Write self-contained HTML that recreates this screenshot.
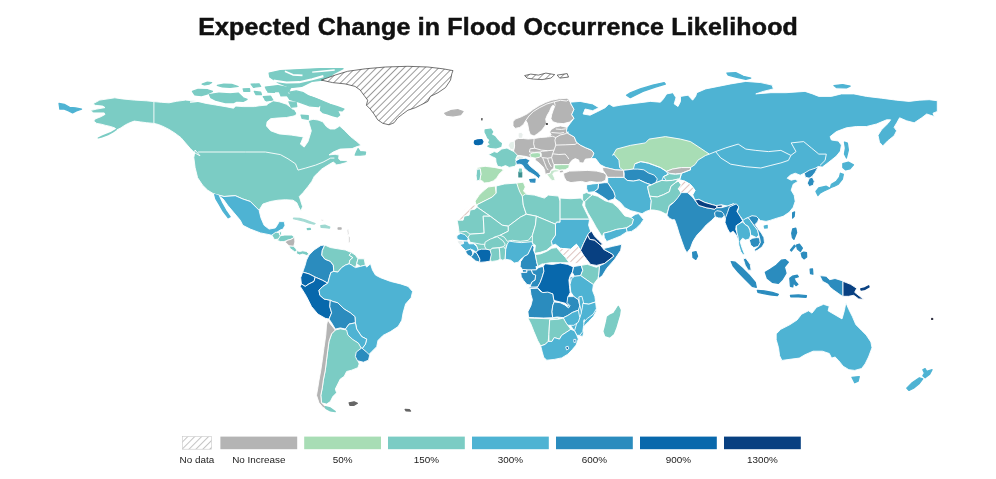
<!DOCTYPE html>
<html lang="en"><head><meta charset="utf-8"><title>Expected Change in Flood Occurrence Likelihood</title>
<style>
html,body{margin:0;padding:0;background:#fff;}
body{width:996px;height:479px;overflow:hidden;position:relative;font-family:"Liberation Sans",sans-serif;}
h1{position:absolute;left:0;top:13px;width:996px;margin:0;text-align:center;font-size:23.2px;line-height:28px;font-weight:bold;color:#111;letter-spacing:0.2px;text-indent:0.2px;transform:scaleX(1.075);transform-origin:498px 0;white-space:nowrap;-webkit-text-stroke:0.5px #111;}
svg{position:absolute;left:0;top:0;}
.legend text{font-family:"Liberation Sans",sans-serif;font-size:9.9px;fill:#1a1a1a;}
</style></head><body>
<h1>Expected Change in Flood Occurrence Likelihood</h1>
<svg width="996" height="479" viewBox="0 0 996 479">
<defs><pattern id="hatch" width="4.9" height="4.9" patternUnits="userSpaceOnUse" patternTransform="rotate(45)">
<rect width="4.9" height="4.9" fill="#fff"/><line x1="0.5" y1="0" x2="0.5" y2="4.9" stroke="#5a5a5a" stroke-width="0.6"/></pattern>
<pattern id="hatch3" width="4.9" height="4.9" patternUnits="userSpaceOnUse" patternTransform="rotate(45)">
<rect width="4.9" height="4.9" fill="#fff"/><line x1="0.5" y1="0" x2="0.5" y2="4.9" stroke="#aaa" stroke-width="0.7"/></pattern>
<pattern id="hatch2" width="4.9" height="4.9" patternUnits="userSpaceOnUse" patternTransform="rotate(45)">
<rect width="4.9" height="4.9" fill="#fff"/><line x1="0.5" y1="0" x2="0.5" y2="4.9" stroke="#dcc2be" stroke-width="1"/></pattern></defs>
<g class="map">
<g stroke="#fff" stroke-width="0.9" stroke-linejoin="round">
<path d="M59.0,103.4L64.3,104.3L69.6,107.3L75.6,107.9L81.6,109.1L76.4,110.9L72.6,112.9L68.1,110.6L64.3,109.1L59.8,109.1Z" fill="#4eb3d3" stroke="#4eb3d3" stroke-width="1.2"/>
<path d="M92.9,103.8L99.7,100.1L114.8,97.8L122.3,98.9L134.3,100.1L146.4,100.8L153.9,101.6L161.4,102.3L169.0,102.8L176.5,101.3L185.5,100.1L193.1,100.8L200.0,101.3L190.0,102.1L198.0,101.5L206.1,103.4L215.7,105.0L227.0,106.9L233.4,108.2L235.8,106.1L243.1,106.6L254.3,106.6L259.1,105.8L267.2,105.0L267.1,104.2L273.2,100.8L279.2,101.8L286.5,104.2L291.3,107.8L296.2,112.7L295.0,115.7L286.5,117.5L276.8,118.1L270.7,118.7L267.1,121.8L266.5,126.0L270.7,130.8L279.2,133.9L291.3,135.1L303.4,136.9L300.4,144.1L304.2,147.1L308.0,141.6L311.3,130.8L309.5,124.8L308.3,120.6L313.1,119.3L318.0,120.0L322.8,121.8L326.4,126.6L330.1,129.0L334.9,129.0L339.7,126.0L344.4,130.3L350.6,136.6L356.9,141.6L361.2,145.4L357.1,146.6L352.1,148.6L340.1,149.1L333.1,152.1L329.0,154.9L335.1,154.3L339.1,155.1L338.6,158.6L340.1,160.3L347.1,160.7L347.3,162.3L340.1,164.3L336.3,164.9L334.6,162.9L333.2,162.1L328.1,165.1L321.9,168.9L318.1,172.6L314.3,176.4L311.8,181.4L308.1,186.4L303.0,192.7L299.3,196.5L300.5,200.2L302.5,206.5L301.0,211.0L299.0,207.8L296.8,202.8L293.0,200.2L285.5,199.7L277.9,200.2L270.4,201.5L262.9,204.0L259.1,210.3L256.6,207.8L250.3,201.5L242.8,199.0L235.3,195.7L224.0,196.5L213.9,194.0L207.7,190.2L202.6,185.2L197.6,177.7L195.1,167.6L193.8,157.6L195.1,150.0L200.0,155.8L194.6,152.8L190.1,148.3L185.5,143.0L181.0,137.7L175.0,133.2L169.0,129.4L163.0,126.4L158.4,124.5L153.9,123.4L146.4,122.7L140.4,121.9L134.3,121.1L129.8,122.7L125.3,124.9L120.8,127.9L116.3,130.2L110.2,132.9L102.7,135.9L98.2,138.0L102.0,137.0L108.0,134.7L113.3,131.7L116.3,129.4L114.8,127.9L110.2,126.4L105.7,125.4L101.2,124.2L96.7,123.4L93.7,121.1L95.2,118.9L101.2,116.6L105.0,114.4L104.2,112.9L93.7,112.9L89.9,110.6L96.7,109.1L105.0,107.6L102.7,106.1L95.2,105.3Z" fill="#7bccc4"/>
<path d="M192.4,91.4L198.0,89.3L207.7,89.7L212.5,91.4L207.7,93.8L201.3,95.7L194.8,95.0Z" fill="#7bccc4" stroke="#7bccc4" stroke-width="1.2"/>
<path d="M209.3,94.6L218.9,93.0L230.2,93.8L238.2,93.0L243.1,97.8L247.1,99.4L243.1,101.5L236.6,101.0L233.4,102.6L225.4,102.6L215.7,100.2L210.9,97.8Z" fill="#7bccc4" stroke="#7bccc4" stroke-width="1.2"/>
<path d="M202.1,84.1L206.9,82.2L211.7,82.5L209.3,84.1L204.5,84.9Z" fill="#7bccc4" stroke="#7bccc4" stroke-width="1.2"/>
<path d="M217.3,85.4L223.8,84.1L231.8,84.4L238.2,86.5L230.2,87.3L222.2,87.0Z" fill="#7bccc4" stroke="#7bccc4" stroke-width="1.2"/>
<path d="M254.3,91.4L260.7,92.2L261.5,94.6L255.9,94.6Z" fill="#7bccc4" stroke="#7bccc4" stroke-width="1.2"/>
<path d="M263.2,96.7L270.4,96.2L272.8,99.9L266.4,101.0Z" fill="#7bccc4" stroke="#7bccc4" stroke-width="1.2"/>
<path d="M267.2,89.7L275.2,90.2L274.4,92.5L268.0,92.2Z" fill="#7bccc4" stroke="#7bccc4" stroke-width="1.2"/>
<path d="M265.3,87.1L277.9,85.6L290.4,88.1L289.1,91.6L275.3,91.6L266.6,90.1Z" fill="#7bccc4" stroke="#7bccc4" stroke-width="1.2"/>
<path d="M269.1,73.1L280.4,70.6L300.4,69.6L320.5,68.6L343.1,68.6L334.3,73.1L326.8,79.6L311.7,81.4L301.7,86.4L290.4,87.6L277.9,82.6L269.8,77.1Z" fill="#7bccc4" stroke="#7bccc4" stroke-width="1.2"/>
<path d="M289.5,92.1L296.2,90.9L303.4,92.7L308.3,95.7L315.5,98.2L322.8,101.2L330.1,104.2L337.3,106.6L344.0,109.1L342.2,110.9L337.3,110.3L339.7,115.1L337.3,116.9L332.5,115.7L327.6,113.9L322.8,112.7L320.4,110.3L321.0,106.0L315.5,104.2L310.7,102.4L305.8,100.0L301.0,98.2L295.0,96.3L290.7,94.5Z" fill="#7bccc4" stroke="#7bccc4" stroke-width="1.2"/>
<path d="M288.9,101.8L296.2,102.4L296.8,106.6L291.3,107.2Z" fill="#7bccc4" stroke="#7bccc4" stroke-width="1.2"/>
<path d="M287.7,110.9L293.7,110.3L295.6,113.9L290.1,115.1Z" fill="#7bccc4" stroke="#7bccc4" stroke-width="1.2"/>
<path d="M264.1,96.9L270.7,96.7L271.3,100.0L265.3,100.3Z" fill="#7bccc4" stroke="#7bccc4" stroke-width="1.2"/>
<path d="M279.2,91.5L287.7,91.1L288.3,95.7L281.0,96.0Z" fill="#7bccc4" stroke="#7bccc4" stroke-width="1.2"/>
<path d="M301.0,115.1L308.3,115.7L308.3,119.3L302.2,118.5Z" fill="#7bccc4" stroke="#7bccc4" stroke-width="1.2"/>
<path d="M358.1,148.6L360.1,151.6L365.6,152.1L365.1,154.6L360.1,155.1L355.1,155.1L356.1,152.6Z" fill="#7bccc4" stroke="#7bccc4" stroke-width="1.2"/>
<path d="M321.3,80.1L335.1,75.1L347.6,71.3L365.2,68.8L385.3,67.0L407.9,66.3L427.9,67.0L443.0,68.8L453.0,70.6L451.8,73.8L450.5,80.1L445.5,87.6L438.0,92.7L430.4,96.4L427.9,101.4L420.4,105.2L415.4,107.7L407.9,110.2L402.8,114.0L397.8,117.8L394.0,122.8L389.0,124.8L382.8,123.3L377.7,119.8L374.0,114.0L370.2,109.0L366.4,105.2L367.7,100.2L363.9,95.2L360.2,90.1L355.1,86.4L345.1,83.9L332.6,82.6Z" fill="url(#hatch)" stroke="#3a3a3a" stroke-width="0.7"/>
<path d="M444.7,113.2L450.5,110.7L458.1,109.7L463.1,111.5L460.6,114.7L453.0,116.0L446.8,115.2Z" fill="#b4b4b4" stroke="#b4b4b4" stroke-width="1.2"/>
<path d="M213.9,194.0L224.0,196.5L235.3,195.7L242.8,199.0L250.3,201.5L256.6,207.8L259.1,210.3L260.9,217.8L264.1,225.3L269.1,229.1L275.4,227.9L277.9,224.1L279.2,221.6L284.2,221.6L285.0,225.3L283.0,229.1L280.4,229.9L276.7,232.4L274.2,235.9L270.4,234.9L260.4,232.9L250.3,229.1L242.8,225.3L240.3,220.3L234.0,212.8L227.7,205.3L223.2,199.0L218.9,195.7Z" fill="#4eb3d3"/>
<path d="M214.7,194.7L218.2,195.7L221.5,202.8L225.7,210.3L230.2,216.8L228.2,217.8L223.2,211.5L218.9,204.0L215.9,199.0Z" fill="#4eb3d3" stroke="#4eb3d3" stroke-width="1.2"/>
<path d="M271.8,235.1L275.9,232.1L279.8,233.0L280.7,235.9L278.9,239.0L274.4,239.6Z" fill="#7bccc4"/>
<path d="M279.4,231.8L281.6,231.8L281.3,235.1L279.5,235.1Z" fill="#7bccc4"/>
<path d="M278.3,239.0L280.4,235.7L284.9,235.1L291.9,235.1L294.6,237.2L291.0,239.3L286.9,240.5L283.9,241.6L280.6,241.6L277.4,240.5Z" fill="#7bccc4"/>
<path d="M286.6,240.5L291.0,239.3L294.6,237.2L294.9,242.0L293.7,246.4L289.2,246.0L285.5,242.3Z" fill="#b4b4b4"/>
<path d="M288.9,246.0L293.7,246.3L295.8,248.7L297.6,251.4L294.6,251.7L290.4,248.7Z" fill="#7bccc4"/>
<path d="M296.4,250.6L299.7,251.5L302.7,250.8L306.3,251.4L309.0,253.8L306.9,255.6L302.7,254.1L299.7,255.0L296.7,253.8Z" fill="#7bccc4"/>
<path d="M293.7,218.0L299.7,218.3L305.7,220.1L311.7,222.2L315.1,223.5L314.0,224.1L308.7,222.9L302.7,220.8L296.7,219.5L293.4,218.7Z" fill="#a5dbd4" stroke="#a5dbd4" stroke-width="1.2"/>
<path d="M320.8,225.6L325.3,225.2L329.8,227.0L329.5,228.2L325.3,227.7L321.1,227.4Z" fill="#9ed8d0" stroke="#9ed8d0" stroke-width="1.2"/>
<path d="M307.2,228.5L310.2,228.3L310.5,229.5L307.5,229.7Z" fill="#7bccc4" stroke="#7bccc4" stroke-width="1.2"/>
<path d="M338.1,227.9L341.1,227.9L341.1,229.1L338.1,229.1Z" fill="#b4b4b4" stroke="#b4b4b4" stroke-width="1.2"/>
<path d="M321.1,219.8L323.0,219.5L323.3,220.7L321.4,221.0Z" fill="#b4b4b4"/>
<path d="M347.1,229.8L348.6,229.8L348.9,234.4L347.6,234.4Z" fill="#b4b4b4"/>
<path d="M348.6,236.6L350.0,236.6L350.0,242.7L348.8,242.7Z" fill="#b4b4b4"/>
<path d="M309.0,255.1L314.0,250.0L320.8,245.5L324.8,245.0L322.3,250.5L321.8,255.1L324.8,259.1L330.3,261.3L333.3,265.1L333.8,271.4L330.8,272.6L329.3,277.7L327.8,283.2L322.3,280.2L315.2,277.1L309.0,273.9L302.7,272.1L305.2,265.1L306.5,260.1Z" fill="#2b8cbe"/>
<path d="M324.8,245.0L330.3,247.5L337.8,248.8L345.4,250.0L351.6,252.6L349.1,255.1L352.9,257.6L349.9,260.1L349.1,263.8L345.4,265.1L341.6,267.6L337.8,272.1L333.8,271.4L333.3,265.1L330.3,261.3L324.8,259.1L321.8,255.1L322.3,250.5Z" fill="#7bccc4"/>
<path d="M351.6,252.6L355.4,255.1L357.9,258.8L356.7,263.8L355.4,267.6L351.6,265.1L349.1,263.8L349.9,260.1L352.9,257.6L349.1,255.1Z" fill="#7bccc4"/>
<path d="M357.9,258.8L364.2,258.8L365.4,265.1L360.4,266.4L356.7,263.8Z" fill="#7bccc4"/>
<path d="M302.7,272.1L309.0,273.9L315.2,277.1L314.0,281.4L309.0,283.9L305.2,286.4L301.4,283.9L300.7,277.7Z" fill="#0868ac"/>
<path d="M301.4,283.9L305.2,286.4L309.0,283.9L314.0,281.4L315.2,277.1L322.3,280.2L327.8,283.2L322.8,286.4L319.0,290.2L319.8,295.2L324.0,299.0L330.3,300.2L329.8,306.5L331.6,312.8L329.0,319.1L325.3,318.3L317.8,314.0L311.5,306.5L306.5,296.5L302.7,290.2L300.2,286.4Z" fill="#0868ac"/>
<path d="M333.8,271.4L337.8,272.1L341.6,267.6L345.4,265.1L349.1,263.8L351.6,265.1L355.4,267.6L360.4,266.4L365.4,265.1L366.7,267.1L370.5,263.8L372.5,270.1L375.5,275.1L380.5,277.7L390.5,281.4L400.6,283.9L408.1,286.4L412.6,291.5L411.1,297.7L405.6,304.0L403.1,312.8L401.8,320.3L398.1,326.6L390.5,331.6L383.0,335.4L378.0,340.4L376.7,346.7L371.7,351.7L368.0,355.5L365.4,351.7L361.7,349.2L365.4,344.2L366.7,339.1L361.7,336.6L356.7,329.1L355.4,322.8L354.9,316.6L350.4,312.8L344.1,309.0L337.8,302.8L332.8,301.5L330.3,300.2L324.0,299.0L319.8,295.2L319.0,290.2L322.8,286.4L327.8,283.2L329.3,277.7L330.8,272.6Z" fill="#4eb3d3"/>
<path d="M330.3,300.2L332.8,301.5L337.8,302.8L344.1,309.0L350.4,312.8L354.9,316.6L355.4,322.8L349.1,324.1L345.4,329.1L340.3,327.9L335.3,329.1L331.6,322.8L329.0,319.1L331.6,312.8L329.8,306.5Z" fill="#2b8cbe"/>
<path d="M345.4,329.1L349.1,324.1L355.4,322.8L356.7,329.1L361.7,336.6L366.7,339.1L365.4,344.2L361.7,349.2L357.9,342.9L351.6,339.1L346.6,334.1Z" fill="#4eb3d3"/>
<path d="M335.3,330.0L340.3,328.8L346.6,330.0L347.9,335.1L352.9,339.6L358.4,343.1L361.7,348.9L357.9,352.1L356.7,357.7L359.2,363.9L357.9,367.7L351.6,370.2L346.6,371.5L344.1,376.5L340.3,379.0L337.8,384.0L335.3,389.0L336.6,392.8L332.8,396.6L330.3,401.6L326.5,404.1L321.5,402.8L320.8,395.3L322.3,387.8L323.3,380.2L325.3,370.2L326.5,360.2L327.8,350.1L329.0,341.3L331.6,333.8Z" fill="#7bccc4"/>
<path d="M327.8,320.0L330.3,323.8L335.3,330.0L331.6,333.8L329.0,341.3L327.8,350.1L326.5,360.2L325.3,370.2L323.3,380.2L322.3,387.8L320.8,395.3L321.5,402.8L325.3,406.6L330.3,409.9L327.8,409.9L322.8,407.3L319.0,402.8L316.5,395.3L317.8,387.8L319.0,380.2L320.8,370.2L322.3,360.2L324.0,347.6L325.8,335.1L326.5,325.0Z" fill="#b4b4b4"/>
<path d="M325.3,406.6L330.3,407.9L335.3,411.6L330.3,410.9L325.8,408.4Z" fill="#7bccc4" stroke="#7bccc4" stroke-width="1.2"/>
<path d="M356.2,352.1L361.7,347.9L366.4,351.9L369.7,355.1L368.5,360.2L363.4,362.2L357.4,360.7L355.4,356.6Z" fill="#2b8cbe"/>
<path d="M349.1,402.8L354.1,401.8L357.4,403.3L354.1,405.3L349.9,405.3Z" fill="#666" stroke="#666" stroke-width="1.2"/>
<path d="M405.1,409.4L409.4,409.6L410.6,411.1L406.1,410.9Z" fill="#666" stroke="#666" stroke-width="1.2"/>
<path d="M514.1,141.0L516.6,139.0L518.6,138.5L523.6,138.5L528.1,139.0L534.2,138.5L540.2,137.5L547.2,137.0L551.2,135.0L549.7,132.0L551.2,129.5L555.2,127.0L560.4,125.9L567.2,127.4L566.5,130.5L567.3,133.0L574.3,137.0L576.3,142.0L580.3,145.1L585.4,147.6L591.4,150.1L593.9,153.1L592.9,156.1L590.9,158.6L585.4,159.1L583.4,163.1L579.3,162.6L578.8,160.1L575.3,158.6L572.3,160.1L569.8,163.1L569.3,164.6L561.3,164.6L554.2,164.6L553.7,168.2L551.2,170.2L550.2,173.2L545.2,174.2L544.7,170.2L543.2,167.1L539.2,163.1L535.2,160.1L535.2,158.1L530.1,157.6L525.1,156.3L519.1,155.6L515.1,155.6L514.1,153.1L513.6,150.1L514.6,146.1Z" fill="#b4b4b4"/>
<path d="M513.0,121.8L515.2,119.1L521.3,116.8L527.3,113.8L533.3,109.3L539.3,105.5L545.4,102.5L551.4,100.3L558.9,98.8L566.4,98.3L569.5,99.5L571.0,104.0L574.0,109.3L571.7,114.6L574.0,118.3L569.5,122.1L563.4,123.6L557.4,123.2L552.9,121.8L550.9,118.8L551.7,114.6L553.2,110.1L554.7,106.3L552.9,105.2L551.4,107.0L549.4,111.6L547.2,115.3L545.7,119.1L546.4,122.9L544.6,126.6L541.6,130.4L537.5,133.7L534.1,136.0L530.3,134.5L528.8,130.4L528.0,125.9L527.3,122.9L525.8,120.6L523.5,124.4L519.8,127.4L515.2,128.4L513.0,125.9Z" fill="#b4b4b4"/>
<path d="M545.8,123.2L547.9,123.2L547.9,124.8L545.8,124.8Z" fill="#222" stroke="none"/>
<path d="M481.1,118.3L482.7,118.3L482.3,120.5L481.5,120.5Z" fill="#222" stroke="none"/>
<path d="M518.3,133.0L521.3,132.2L523.1,134.5L522.6,138.0L519.1,138.5L518.1,136.0Z" fill="#e9eeec"/>
<path d="M508.1,145.1L510.1,142.0L514.1,141.0L514.6,146.1L513.6,150.1L510.1,149.1Z" fill="#e3efe9"/>
<path d="M515.6,157.1L519.1,155.9L523.6,156.6L523.1,159.1L519.1,159.9L516.1,159.3Z" fill="#e6f1ea"/>
<path d="M529.6,154.6L532.1,153.1L537.2,152.6L541.2,153.3L541.4,155.6L539.2,157.3L535.2,158.1L531.1,157.3Z" fill="#a8ddb5"/>
<path d="M554.2,164.9L561.3,164.6L569.3,164.6L568.8,167.7L565.3,169.7L559.3,170.2L554.7,168.7Z" fill="#a8ddb5"/>
<path d="M546.7,174.2L550.2,173.2L551.2,170.4L555.2,169.7L559.3,170.2L558.3,171.7L554.2,172.2L552.7,174.2L554.2,177.2L555.2,180.2L552.2,180.7L549.7,178.2L548.2,176.2Z" fill="#c4e6cc"/>
<path d="M485.1,129.9L490.8,129.0L492.7,131.9L491.1,134.5L494.5,136.4L496.9,139.4L499.0,141.7L501.4,143.5L500.8,146.5L496.0,148.0L490.4,147.4L487.8,146.2L490.8,144.2L488.7,142.6L489.9,139.9L487.8,137.9L486.3,134.5L485.1,132.3Z" fill="#7bccc4" stroke="#7bccc4" stroke-width="1.2"/>
<path d="M474.6,140.9L477.6,139.9L481.8,139.6L483.0,141.7L481.8,143.9L478.3,144.7L475.3,144.4L474.3,142.9Z" fill="#0868ac" stroke="#0868ac" stroke-width="1.2"/>
<path d="M488.4,154.6L494.2,151.6L497.2,152.5L501.7,149.0L507.0,148.0L510.3,149.8L514.0,151.6L517.5,155.3L515.7,159.1L517.2,162.9L514.9,166.3L509.2,167.4L505.5,165.6L501.7,167.1L497.6,166.3L496.0,162.1L495.7,158.3L492.3,156.7Z" fill="#7bccc4"/>
<path d="M477.6,167.4L485.1,166.3L494.2,167.4L501.7,168.9L503.5,169.9L499.0,174.2L496.9,177.9L493.4,180.9L488.9,182.6L484.4,182.9L482.1,180.9L479.8,180.2L480.9,174.2L480.3,168.9L476.8,169.3Z" fill="#a8ddb5"/>
<path d="M476.8,169.3L480.3,168.9L480.9,174.2L479.8,180.2L476.8,180.9L476.1,175.7Z" fill="#7bccc4"/>
<path d="M515.7,160.9L519.8,158.8L525.8,158.3L530.0,160.3L528.0,163.3L530.3,166.3L534.8,169.9L538.7,173.0L540.5,175.7L538.7,178.7L536.3,176.4L532.6,173.9L528.8,171.9L524.6,168.4L522.5,165.1L519.8,164.2L516.4,164.4Z" fill="#2b8cbe"/>
<path d="M529.7,179.6L535.1,179.1L534.8,182.1L530.6,181.8Z" fill="#2b8cbe" stroke="#2b8cbe" stroke-width="1.2"/>
<path d="M518.9,172.2L521.7,172.2L521.7,177.0L518.9,177.0Z" fill="#3d8f8f" stroke="#3d8f8f" stroke-width="1.2"/>
<path d="M519.5,169.0L521.3,169.0L521.3,172.0L519.5,172.0Z" fill="#7bccc4" stroke="#7bccc4" stroke-width="1.2"/>
<path d="M563.4,173.4L569.5,171.1L578.5,170.8L587.5,170.4L596.6,171.1L603.3,172.7L606.4,174.5L605.6,180.2L601.8,182.0L596.6,182.3L590.5,181.4L586.0,182.6L581.5,181.4L575.5,182.0L571.0,182.6L566.4,181.1L564.2,177.2Z" fill="#b4b4b4"/>
<path d="M558.9,170.8L562.7,169.9L563.7,172.3L560.4,173.0Z" fill="#b4b4b4"/>
<path d="M570.1,102.2L580.1,101.4L592.7,103.9L598.9,107.7L592.7,110.7L585.1,109.0L583.1,114.0L590.1,115.2L597.7,111.5L605.2,107.7L609.0,103.9L613.2,106.5L620.3,105.2L630.3,103.9L640.3,102.7L650.4,101.4L660.4,102.2L663.4,98.9L666.7,93.9L673.0,92.7L676.0,97.7L674.2,103.9L678.0,106.5L680.5,101.4L680.5,96.4L688.0,95.2L692.6,100.2L695.6,96.4L696.8,92.7L705.6,88.9L718.2,86.4L730.7,83.9L745.8,81.4L760.8,82.6L772.1,85.1L773.4,88.9L763.3,91.4L755.8,93.9L770.9,92.7L785.9,92.7L805.0,91.4L812.5,93.9L818.8,96.4L831.3,96.4L841.4,93.9L853.9,93.9L866.5,96.4L881.5,98.2L896.6,100.2L909.2,101.4L919.2,100.2L929.2,99.7L937.3,100.7L937.3,111.5L933.0,113.2L934.3,116.5L926.7,114.0L921.7,117.8L914.2,122.8L906.6,120.8L899.6,117.8L897.1,122.3L894.1,127.3L896.6,130.8L894.1,135.8L887.8,140.8L882.8,145.9L879.5,142.3L878.0,135.3L881.5,129.8L888.1,123.3L890.6,119.8L886.6,119.8L876.5,124.0L866.5,126.5L856.4,126.5L846.4,127.8L836.4,131.6L830.1,136.6L831.4,140.0L838.4,141.0L841.4,145.1L840.4,151.1L836.4,156.1L831.4,160.1L826.3,164.1L822.3,167.1L818.3,166.5L815.3,172.2L812.3,176.2L809.3,178.2L805.3,177.2L804.3,173.2L800.2,175.2L795.2,173.2L790.2,175.2L787.2,178.2L791.2,180.2L795.2,179.2L798.2,181.2L793.2,184.2L791.2,190.2L794.2,195.3L795.2,201.3L793.2,207.3L789.2,212.3L783.2,216.3L776.1,218.4L770.1,220.4L766.1,221.4L760.4,220.5L758.9,218.9L754.4,217.9L751.4,219.7L746.9,217.9L743.9,222.0L741.6,218.2L737.1,212.2L738.6,208.4L737.1,205.4L733.3,203.9L727.3,206.1L722.0,204.9L716.7,205.8L712.2,204.6L704.7,202.4L698.7,199.4L694.9,200.1L692.7,194.7L695.0,190.2L690.5,184.5L684.5,181.1L678.4,179.3L672.4,180.4L666.4,180.8L661.9,180.4L655.8,182.7L651.3,184.9L645.3,182.7L639.3,179.9L633.3,181.1L627.2,180.4L623.9,177.4L624.2,173.6L623.5,170.3L615.2,169.8L606.1,167.6L600.1,164.6L595.6,158.6L590.9,158.6L592.9,156.1L593.9,153.1L591.4,150.1L585.4,147.6L580.3,145.1L576.3,142.0L574.3,137.0L567.3,133.0L566.5,130.5L567.2,127.4L570.2,123.3L574.0,118.3L571.7,114.6L574.0,109.3L571.0,104.0L569.5,99.5Z" fill="#4eb3d3"/>
<path d="M626.5,95.2L630.3,92.7L640.3,88.9L652.9,85.1L664.2,82.6L665.4,84.1L655.4,87.1L642.9,91.4L635.3,95.2L630.3,97.7Z" fill="#4eb3d3" stroke="#4eb3d3" stroke-width="1.2"/>
<path d="M726.9,73.1L735.7,72.6L743.3,76.3L750.8,78.1L745.8,79.3L735.7,77.1L728.2,75.1Z" fill="#4eb3d3" stroke="#4eb3d3" stroke-width="1.2"/>
<path d="M833.9,85.6L842.6,84.6L850.2,86.1L846.4,87.9L836.4,87.6Z" fill="#4eb3d3" stroke="#4eb3d3" stroke-width="1.2"/>
<path d="M844.4,142.0L847.4,143.1L848.4,150.1L846.4,158.1L844.4,154.1L845.4,148.1Z" fill="#4eb3d3" stroke="#4eb3d3" stroke-width="1.2"/>
<path d="M612.7,155.4L616.5,149.1L630.3,145.4L645.4,142.9L649.1,139.1L665.4,136.6L680.5,139.1L690.5,141.6L698.1,146.6L705.6,151.6L709.4,154.1L705.5,155.5L698.0,160.1L695.0,164.6L690.5,167.6L681.4,167.6L672.4,169.1L666.4,171.4L660.4,167.6L654.3,165.3L648.3,163.1L640.8,161.6L634.8,163.8L633.3,169.1L623.5,170.3L619.7,167.6L618.9,160.1L613.7,154.0Z" fill="#a8ddb5"/>
<path d="M623.5,170.3L633.3,169.1L637.8,169.1L643.8,169.8L648.3,172.9L654.3,175.1L657.3,178.9L655.8,182.7L651.3,184.9L645.3,182.7L639.3,179.9L633.3,181.1L627.2,180.4L623.9,177.4L624.2,173.6Z" fill="#2b8cbe"/>
<path d="M666.4,171.4L672.4,169.1L681.4,167.6L690.5,167.6L690.5,169.8L681.4,173.3L675.4,173.9L669.4,173.3Z" fill="#b4b4b4"/>
<path d="M663.4,176.6L669.4,173.6L675.4,174.4L681.4,173.6L679.9,178.9L672.4,180.4L666.4,180.5Z" fill="#7bccc4"/>
<path d="M804.3,173.2L809.3,170.2L815.3,168.2L818.3,166.5L815.3,172.2L812.3,176.2L809.3,178.2L805.3,177.2Z" fill="#2b8cbe"/>
<path d="M809.3,178.2L812.3,177.2L814.3,181.2L813.3,185.2L809.3,186.6L807.3,183.2Z" fill="#2b8cbe"/>
<path d="M842.8,163.7L848.4,162.1L853.5,164.9L850.0,168.8L845.4,169.8L842.8,167.6Z" fill="#4eb3d3" stroke="#4eb3d3" stroke-width="1.2"/>
<path d="M840.4,173.2L843.4,174.2L842.4,179.2L838.4,184.2L834.4,186.2L830.4,187.6L831.4,184.2L836.4,181.2L839.4,177.2Z" fill="#4eb3d3" stroke="#4eb3d3" stroke-width="1.2"/>
<path d="M818.7,187.8L826.3,186.2L830.0,188.2L823.9,191.0L820.3,192.9L817.9,195.5L815.9,191.4Z" fill="#4eb3d3" stroke="#4eb3d3" stroke-width="1.2"/>
<path d="M792.6,212.7L794.6,211.9L794.2,216.3L792.6,218.0Z" fill="#2b8cbe" stroke="#2b8cbe" stroke-width="1.2"/>
<path d="M764.2,226.0L767.2,225.4L767.2,228.0L764.6,228.1Z" fill="#4eb3d3" stroke="#4eb3d3" stroke-width="1.2"/>
<path d="M602.4,167.6L606.1,167.6L615.2,169.8L623.5,170.3L623.9,177.4L615.2,177.4L607.7,177.4L605.4,173.6L603.1,170.6Z" fill="#b4b4b4"/>
<path d="M607.7,177.4L615.2,177.4L623.9,177.4L627.2,180.4L633.3,181.1L639.3,179.9L645.3,182.7L651.3,184.9L647.6,186.4L648.3,190.2L649.8,196.2L651.3,200.7L650.4,209.9L645.9,211.4L642.1,213.7L636.9,212.2L630.8,210.7L624.8,207.7L620.3,202.4L615.0,198.6L613.7,191.7L610.7,187.2L607.7,182.7Z" fill="#4eb3d3"/>
<path d="M598.6,183.4L604.6,182.7L607.7,182.7L610.7,187.2L613.7,191.7L615.2,196.2L613.7,199.2L608.4,200.7L603.1,197.0L597.1,193.2L594.1,191.7L597.9,188.7Z" fill="#2b8cbe"/>
<path d="M586.6,184.9L592.6,183.9L598.6,183.4L597.9,188.7L594.1,191.7L588.1,192.4L586.6,188.7Z" fill="#4eb3d3"/>
<path d="M582.6,194.0L586.4,192.5L592.4,194.8L588.6,197.8L584.8,201.6L582.6,202.3Z" fill="#7bccc4"/>
<path d="M584.8,201.6L588.6,197.8L592.4,194.8L597.7,196.3L605.2,200.8L612.7,203.1L618.0,207.6L621.7,212.1L624.8,215.9L630.8,217.4L633.8,218.9L632.3,224.2L626.3,227.9L616.5,229.4L609.7,231.7L603.7,233.2L602.2,237.0L599.9,233.2L596.1,227.2L592.4,220.4L587.9,212.9L584.8,206.1Z" fill="#7bccc4"/>
<path d="M630.8,217.4L635.3,214.4L638.3,213.6L640.6,215.9L643.6,219.6L640.6,223.9L636.1,228.4L631.5,231.4L627.0,232.0L626.0,228.4L632.0,224.5L633.5,219.3Z" fill="#4eb3d3"/>
<path d="M603.7,233.2L609.7,231.7L616.5,229.4L626.3,227.9L627.0,231.7L620.2,236.2L612.7,239.2L606.7,241.5L604.4,237.7Z" fill="#4eb3d3"/>
<path d="M651.3,184.9L655.8,182.7L661.9,180.4L666.4,180.8L672.4,180.4L678.4,178.9L675.4,182.7L670.9,186.4L669.4,191.7L663.4,194.7L657.3,197.0L649.8,196.2L648.3,190.2L647.6,186.4Z" fill="#7bccc4"/>
<path d="M649.8,196.2L657.3,197.0L663.4,194.7L669.4,191.7L670.9,186.4L675.4,182.7L678.4,181.1L681.4,184.9L678.4,188.7L681.4,193.2L678.4,197.7L673.9,202.2L669.4,205.2L667.9,211.3L666.4,214.3L660.4,211.3L654.3,210.1L650.4,209.9L651.3,200.7Z" fill="#7bccc4"/>
<path d="M678.4,181.1L684.5,181.1L690.5,184.5L695.0,190.2L692.7,194.7L687.5,193.2L681.4,193.2L678.4,188.7L681.4,184.9Z" fill="url(#hatch2)"/>
<path d="M681.4,192.6L687.4,192.6L691.9,196.4L694.9,200.1L698.7,205.4L706.2,207.7L714.5,209.2L716.7,207.7L721.3,207.7L727.3,206.1L733.3,203.9L737.1,205.4L734.8,209.2L732.6,212.9L728.8,215.2L727.3,218.9L725.0,219.7L724.3,215.9L722.0,218.2L718.3,217.9L715.2,216.7L711.5,220.5L706.2,225.0L701.7,230.2L697.2,234.8L694.2,239.3L692.7,242.0L690.4,248.3L686.9,252.8L684.4,248.3L682.1,242.0L679.1,233.3L676.8,225.7L674.6,219.7L672.3,219.7L669.3,218.2L667.0,215.2L667.8,211.4L669.3,206.1L673.8,202.4L677.6,197.9Z" fill="#2b8cbe"/>
<path d="M694.9,200.1L698.7,199.4L704.7,202.4L712.2,204.6L716.7,205.8L716.7,207.7L714.5,209.2L706.2,207.7L698.7,205.4Z" fill="#084081"/>
<path d="M716.7,205.4L722.0,204.9L722.5,207.0L717.5,207.7Z" fill="#084081"/>
<path d="M692.6,252.3L696.0,251.5L697.6,256.2L695.8,259.4L693.0,257.6Z" fill="#2b8cbe" stroke="#2b8cbe" stroke-width="1.2"/>
<path d="M729.4,206.9L733.8,205.0L736.3,203.8L738.8,206.9L736.9,211.3L740.1,216.3L742.6,220.7L740.1,223.2L736.3,225.7L735.7,229.4L737.5,233.8L738.8,237.6L740.1,241.4L738.8,242.0L737.3,237.6L736.3,235.1L733.2,231.3L730.0,233.2L727.5,228.8L725.0,222.6L725.6,217.5L727.5,212.5Z" fill="#0868ac"/>
<path d="M736.3,225.7L740.1,223.2L742.6,221.9L745.1,224.4L748.2,226.3L750.1,230.1L750.7,235.1L749.4,238.8L745.7,240.1L742.6,238.2L740.1,241.4L741.9,247.6L744.4,253.9L743.2,255.1L740.7,251.4L738.8,245.1L738.2,237.6L736.9,232.6Z" fill="#4eb3d3"/>
<path d="M742.6,220.7L745.1,218.8L748.2,217.5L750.7,220.7L753.8,225.1L757.6,230.1L758.8,235.1L756.3,237.6L753.8,236.3L750.7,235.1L750.1,230.1L748.2,226.3L745.1,224.4Z" fill="#4eb3d3"/>
<path d="M748.2,217.5L752.0,215.7L756.3,216.3L758.8,218.8L757.6,221.9L755.1,224.4L757.6,228.2L761.4,233.2L763.9,237.6L764.5,242.6L762.0,247.0L757.6,250.1L755.1,251.4L754.5,249.5L758.2,246.4L760.1,242.6L759.5,237.6L758.8,235.1L757.6,230.1L753.8,225.1L750.7,220.7Z" fill="#2b8cbe"/>
<path d="M749.4,240.1L752.6,238.2L756.3,237.6L759.5,237.8L760.1,242.6L758.2,246.4L753.8,247.6L750.7,245.1Z" fill="#2b8cbe"/>
<path d="M792.7,228.8L795.8,228.2L796.7,232.6L795.2,236.3L793.9,239.5L792.4,237.6L791.7,233.2Z" fill="#2b8cbe" stroke="#2b8cbe" stroke-width="1.2"/>
<path d="M801.2,253.3L803.7,252.0L806.5,252.6L806.7,257.0L804.0,258.9L802.1,257.0Z" fill="#2b8cbe" stroke="#2b8cbe" stroke-width="1.2"/>
<path d="M743.2,258.8L745.8,258.2L750.2,264.2L751.2,270.2L748.2,270.2L745.2,265.2Z" fill="#2b8cbe"/>
<path d="M731.2,261.6L735.2,262.2L742.2,268.2L749.2,275.2L755.3,282.3L756.3,287.3L752.2,286.3L745.2,279.3L738.2,272.2L733.2,266.2Z" fill="#2b8cbe" stroke="#2b8cbe" stroke-width="1.2"/>
<path d="M757.3,290.3L764.3,290.9L772.3,292.3L778.4,294.3L777.3,295.7L770.3,294.9L762.3,293.3L757.9,292.3Z" fill="#2b8cbe" stroke="#2b8cbe" stroke-width="1.2"/>
<path d="M765.3,272.2L770.3,269.2L776.3,265.2L781.4,260.2L785.4,259.6L788.4,262.2L784.4,267.2L786.0,273.2L782.4,279.3L778.4,283.3L772.3,282.3L767.3,278.3Z" fill="#2b8cbe" stroke="#2b8cbe" stroke-width="1.2"/>
<path d="M789.8,278.3L792.4,276.2L797.4,275.2L798.4,276.8L794.0,278.3L795.4,281.3L798.0,284.3L796.0,285.7L793.4,282.9L792.8,286.9L790.4,286.3Z" fill="#2b8cbe" stroke="#2b8cbe" stroke-width="1.2"/>
<path d="M796.4,245.1L799.4,244.1L802.4,248.1L800.4,251.5L797.4,249.1Z" fill="#2b8cbe" stroke="#2b8cbe" stroke-width="1.2"/>
<path d="M790.4,250.1L794.4,245.1L795.4,246.1L791.4,251.1Z" fill="#2b8cbe" stroke="#2b8cbe" stroke-width="1.2"/>
<path d="M790.4,295.3L798.4,294.9L806.5,295.7L806.1,297.3L798.4,296.9L790.8,296.9Z" fill="#2b8cbe" stroke="#2b8cbe" stroke-width="1.2"/>
<path d="M810.1,269.2L812.5,268.8L812.9,274.2L810.5,273.6Z" fill="#2b8cbe" stroke="#2b8cbe" stroke-width="1.2"/>
<path d="M819.7,275.6L826.1,276.2L829.6,279.7L835.0,278.5L843.0,280.9L843.0,296.7L838.2,293.3L833.6,290.1L830.2,287.3L827.8,284.1L822.5,281.3Z" fill="#2b8cbe"/>
<path d="M843.0,281.3L850.6,284.3L856.7,288.3L854.7,292.3L859.7,296.3L863.7,299.3L858.7,298.9L853.7,295.3L848.6,296.3L843.0,296.3Z" fill="#084081"/>
<path d="M860.7,288.9L864.7,287.7L868.7,285.7L869.1,286.9L865.1,289.3L861.1,290.1Z" fill="#084081" stroke="#084081" stroke-width="1.2"/>
<path d="M459.0,220.0L483.1,215.0L550.0,215.0L550.0,245.1L533.3,245.1L506.2,245.1L505.2,259.2L490.2,260.7L480.1,255.2L476.3,245.1L468.1,239.1L462.0,234.1L458.8,233.1Z" fill="#7bccc4"/>
<path d="M567.5,296.3L578.8,295.7L585.1,302.6L595.7,305.1L596.3,311.3L593.6,316.3L588.8,321.4L585.1,325.1L582.6,328.2L583.6,332.6L582.8,336.4L576.3,335.1L573.8,330.1L567.5,321.4L563.8,317.6L567.5,305.1Z" fill="#4eb3d3"/>
<path d="M488.2,187.0L495.2,186.0L496.2,193.1L492.2,197.1L486.2,200.1L480.2,203.1L476.1,205.1L475.1,201.1L479.2,195.1L483.2,191.1Z" fill="#a8ddb5"/>
<path d="M476.1,205.1L477.1,207.1L475.1,209.1L470.1,210.1L469.1,215.2L464.1,216.2L463.1,220.2L457.1,220.2L460.1,215.2L465.1,209.1L471.1,205.1Z" fill="url(#hatch2)"/>
<path d="M496.2,186.0L504.3,184.0L517.3,183.0L519.3,189.1L522.3,195.1L523.3,205.1L526.3,214.2L520.3,217.2L508.3,226.2L502.2,225.2L490.2,216.2L477.1,207.1L477.1,204.7L486.2,200.1L492.2,197.1L496.2,193.1Z" fill="#7bccc4"/>
<path d="M516.7,183.0L523.3,182.2L525.3,187.0L523.5,191.1L526.7,194.1L523.1,197.5L519.9,192.1L518.3,188.1Z" fill="#a8ddb5"/>
<path d="M522.3,196.1L525.3,194.1L534.4,195.1L544.4,198.1L548.4,195.1L558.5,196.1L560.1,201.1L560.1,222.2L556.5,222.2L555.5,224.2L536.4,216.2L526.3,214.2L523.3,205.1Z" fill="#7bccc4"/>
<path d="M560.1,198.1L570.5,198.7L580.6,198.1L583.6,201.1L582.6,205.1L587.6,215.2L589.6,219.2L560.1,219.2Z" fill="#7bccc4"/>
<path d="M457.1,220.2L463.1,220.2L464.1,216.2L469.1,215.2L470.1,210.1L475.1,209.1L477.1,207.1L490.2,216.2L483.2,216.2L484.2,233.2L470.1,234.2L466.1,231.2L459.1,232.2L458.1,225.2Z" fill="#7bccc4"/>
<path d="M483.2,216.2L490.2,216.2L502.2,225.2L508.3,226.2L508.3,231.2L500.2,235.2L494.2,237.2L489.2,241.3L485.2,244.3L481.2,244.3L476.1,243.3L470.1,242.3L468.1,237.2L470.1,234.2L484.2,233.2Z" fill="#7bccc4"/>
<path d="M508.3,226.2L520.3,217.2L526.3,214.2L536.4,216.2L535.4,225.2L532.4,235.2L528.4,240.3L520.3,241.3L512.3,240.3L507.3,241.3L504.3,237.2L500.2,235.2L508.3,231.2Z" fill="#7bccc4"/>
<path d="M536.4,216.2L555.5,224.2L555.5,235.2L551.4,241.3L552.4,245.3L546.4,250.3L540.4,252.3L534.4,253.3L535.4,245.3L532.4,243.3L532.4,235.2L535.4,225.2Z" fill="#7bccc4"/>
<path d="M560.1,222.2L560.1,219.2L589.6,219.2L588.6,225.2L590.6,231.2L587.6,235.2L583.6,243.3L580.6,250.3L576.5,244.3L570.5,249.3L560.5,248.3L555.5,244.3L552.4,245.3L551.4,241.3L555.5,235.2L555.5,224.2L556.5,222.2Z" fill="#4eb3d3"/>
<path d="M560.5,248.3L570.5,249.3L576.5,244.3L580.6,250.3L583.6,255.3L586.6,259.3L580.6,263.4L572.5,263.4L565.5,259.3L558.5,252.3Z" fill="url(#hatch2)"/>
<path d="M588.6,233.2L591.6,231.2L594.6,236.2L598.6,240.3L602.7,244.3L600.6,245.3L594.6,240.3L589.6,239.3L587.6,235.2Z" fill="#084081"/>
<path d="M583.6,243.3L587.6,235.2L589.6,239.3L594.6,240.3L600.6,245.3L603.7,249.3L612.7,254.3L613.7,256.3L604.7,263.4L596.6,265.4L590.6,264.4L586.6,259.3L583.6,255.3L580.6,250.3Z" fill="#084081"/>
<path d="M604.7,248.3L612.7,246.3L621.7,244.3L620.7,250.3L614.7,259.3L606.7,268.4L602.4,275.6L598.6,278.6L598.6,275.6L599.4,265.8L604.7,263.4L613.7,256.3L612.7,254.3L603.7,249.3Z" fill="#2b8cbe"/>
<path d="M456.9,235.7L460.7,233.3L464.8,234.5L468.2,238.2L467.6,241.1L462.6,240.6L459.0,240.1L456.9,238.6Z" fill="#4eb3d3"/>
<path d="M457.5,240.7L462.6,240.3L463.6,243.6L459.8,244.6L457.8,242.6Z" fill="#e8eeee"/>
<path d="M459.8,244.6L463.6,243.6L463.2,241.1L467.6,241.1L469.1,243.8L473.6,243.8L476.6,246.3L478.1,250.1L476.1,252.4L473.8,250.5L470.7,249.1L467.8,250.1L465.7,250.7L462.6,247.6Z" fill="#4eb3d3"/>
<path d="M465.7,250.7L467.8,250.1L470.7,249.1L472.6,252.0L472.8,254.9L470.7,256.6L467.6,254.9L466.1,252.6Z" fill="#2b8cbe"/>
<path d="M470.7,256.6L472.8,254.9L473.8,252.0L476.1,252.4L477.9,255.1L479.9,259.1L479.4,262.1L475.7,261.0L472.8,258.6Z" fill="#2b8cbe"/>
<path d="M478.1,250.1L481.4,249.2L486.4,249.2L491.0,249.8L491.7,255.1L490.4,261.1L485.1,261.9L479.6,262.4L479.9,259.1L477.9,255.1L476.1,252.4Z" fill="#0868ac"/>
<path d="M490.2,250.1L492.2,248.1L499.2,247.6L499.7,252.1L500.2,259.2L497.2,260.7L492.2,261.4L490.0,260.7L491.2,254.7Z" fill="#7bccc4"/>
<path d="M499.2,247.6L503.7,246.6L505.7,249.6L505.2,259.2L502.7,260.2L500.2,259.2L499.7,252.1Z" fill="#7bccc4"/>
<path d="M485.1,242.1L490.2,239.1L497.2,236.6L502.7,240.6L505.2,244.1L503.7,246.6L499.2,247.6L492.2,248.1L490.2,250.1L486.1,249.1L484.6,246.1Z" fill="#7bccc4"/>
<path d="M505.7,249.6L507.2,244.1L509.2,241.1L515.3,242.1L521.3,242.6L527.8,242.1L531.8,241.6L533.3,245.1L530.3,249.6L527.8,254.7L524.3,256.7L520.8,259.2L518.3,262.2L514.3,263.0L510.7,260.2L505.2,259.2Z" fill="#4eb3d3"/>
<path d="M532.2,245.1L534.1,247.0L533.5,250.1L535.3,254.5L536.6,261.4L537.9,266.4L531.6,267.0L524.0,267.0L522.2,264.5L520.9,261.4L524.0,256.4L527.8,254.5L530.3,249.5Z" fill="#2b8cbe"/>
<path d="M521.1,261.3L534.8,261.3L536.1,269.5L526.9,269.8L522.6,269.2L520.7,266.3Z" fill="#2b8cbe" stroke="none"/>
<path d="M522.3,269.4L526.9,269.8L526.9,272.3L522.6,272.3Z" fill="#2b8cbe"/>
<path d="M520.7,272.5L526.9,272.3L526.9,270.0L531.3,270.0L532.8,273.8L535.7,275.1L535.1,280.1L532.0,281.9L530.7,285.1L526.9,284.4L523.8,280.7L521.3,276.9Z" fill="#2b8cbe"/>
<path d="M531.3,270.0L536.3,269.8L538.8,267.5L543.2,266.3L543.9,271.3L542.0,277.6L540.1,282.6L537.6,287.0L533.8,287.8L530.1,287.8L530.7,285.1L532.0,281.9L535.1,280.1L535.7,275.1L532.8,273.8Z" fill="#2b8cbe"/>
<path d="M535.3,254.5L540.4,253.9L546.6,251.4L551.7,248.2L556.7,247.6L560.4,252.0L565.5,257.6L569.2,262.7L563.0,262.7L550.4,262.7L543.5,263.9L542.2,263.9L537.9,266.4L536.6,261.4Z" fill="#7bccc4"/>
<path d="M543.2,266.3L545.1,263.8L552.6,264.4L560.2,263.1L567.7,264.4L573.3,266.9L572.7,271.3L570.2,275.7L568.9,280.1L569.5,286.3L570.2,292.6L568.3,296.4L570.2,300.1L568.7,305.8L565.2,303.2L560.2,302.0L553.9,300.4L552.6,293.8L547.6,292.6L542.6,292.6L540.1,290.1L537.6,287.8L528.8,288.2L529.4,287.0L537.6,287.0L540.1,282.6L542.0,277.6L543.9,271.3Z" fill="#0868ac"/>
<path d="M573.8,266.5L581.3,265.3L582.8,270.3L580.6,275.6L574.5,276.3L572.3,272.5Z" fill="#2b8cbe"/>
<path d="M570.0,277.1L573.8,276.8L574.1,284.6L570.5,284.6Z" fill="#2b8cbe"/>
<path d="M581.3,265.3L587.3,264.3L596.4,267.3L599.4,265.8L598.6,275.6L597.9,278.6L593.4,284.6L585.8,279.3L580.6,275.6L582.8,270.3Z" fill="#7bccc4"/>
<path d="M574.5,276.3L580.6,275.6L585.8,279.3L593.4,284.6L592.6,290.6L594.9,296.6L595.6,301.9L588.9,304.2L582.8,303.4L578.3,299.7L573.8,296.6L570.8,292.1L570.0,284.6L571.5,278.6Z" fill="#4eb3d3"/>
<path d="M530.1,288.5L537.7,288.2L540.4,291.4L542.9,292.6L547.9,292.1L552.7,293.9L554.2,301.9L552.7,305.7L552.0,311.7L552.7,317.7L543.7,318.0L534.6,317.7L528.6,317.4L527.9,311.7L530.9,305.7L532.4,299.7L530.9,294.4Z" fill="#2b8cbe"/>
<path d="M554.2,301.9L560.2,302.7L564.8,304.9L568.5,307.9L570.0,305.7L567.0,302.7L567.8,296.6L573.8,296.6L578.3,299.7L579.8,305.7L578.3,310.2L572.3,312.5L567.8,315.5L563.3,317.7L557.2,317.0L552.7,317.7L552.0,311.7L552.7,305.7Z" fill="#2b8cbe"/>
<path d="M578.8,296.9L581.9,296.3L583.2,301.3L584.4,306.9L585.1,312.6L583.8,316.3L581.9,313.8L580.7,308.8L579.4,303.8Z" fill="#4eb3d3"/>
<path d="M582.8,303.4L588.9,304.2L595.6,301.9L596.4,308.7L593.4,314.0L587.3,318.5L583.6,322.2L584.3,319.5L583.6,325.5L582.8,331.6L579.8,335.3L576.8,335.3L574.5,330.8L578.3,318.0L579.8,317.7L581.3,313.2L581.3,312.0L582.5,307.2Z" fill="#4eb3d3"/>
<path d="M563.3,317.7L567.8,315.5L572.3,312.5L578.3,310.2L579.8,317.7L578.3,322.2L573.8,325.3L567.8,325.3L564.8,321.5Z" fill="#4eb3d3"/>
<path d="M527.9,318.0L549.7,318.8L558.0,317.7L558.7,319.2L549.7,319.8L548.9,334.6L548.2,341.4L545.2,344.4L540.7,345.9L537.7,340.6L533.9,331.6L530.9,324.0Z" fill="#7bccc4"/>
<path d="M549.7,319.8L558.7,319.2L563.3,318.0L566.3,323.3L570.8,329.3L566.3,332.3L561.7,335.3L559.5,339.1L554.2,337.6L552.0,341.4L548.9,341.4L548.9,334.6Z" fill="#7bccc4"/>
<path d="M540.7,345.9L545.2,344.4L548.2,341.4L552.0,341.4L554.2,337.6L559.5,339.1L561.7,335.3L566.3,332.3L570.8,329.3L574.5,330.8L576.8,335.3L578.3,339.1L576.1,345.1L572.3,349.6L567.8,354.2L561.7,357.9L554.2,359.4L546.7,360.2L543.7,357.2L542.2,351.9Z" fill="#4eb3d3"/>
<path d="M565.7,346.9L568.1,346.3L568.7,348.9L566.6,349.9Z" fill="#0868ac"/>
<path d="M573.8,339.4L575.8,339.4L575.9,342.1L573.9,342.4Z" fill="#0868ac"/>
<path d="M618.3,306.3L620.2,310.1L619.5,315.1L617.6,321.4L615.8,327.6L613.3,333.9L609.5,337.0L605.7,335.8L604.1,331.4L605.4,326.4L606.6,321.4L607.4,317.0L610.1,315.1L613.9,313.2L616.4,309.4Z" fill="#7bccc4" stroke="#7bccc4" stroke-width="1.2"/>
<path d="M776.2,333.9L780.8,329.3L790.0,324.6L797.0,320.0L801.6,314.2L808.5,310.8L812.0,313.1L816.6,307.3L823.5,304.3L829.3,306.2L828.1,310.8L833.9,314.2L842.0,318.9L844.3,310.8L845.9,302.7L848.9,309.6L852.4,316.6L855.8,324.6L861.6,330.4L866.2,335.0L870.9,342.0L872.0,347.7L868.5,357.0L865.1,363.9L861.6,368.5L854.7,370.4L848.9,369.7L843.1,366.2L838.5,360.4L835.1,357.0L831.6,358.1L829.3,353.5L822.4,351.2L813.1,351.2L805.0,354.7L799.3,358.1L790.0,359.3L781.9,360.4L779.6,355.8L778.5,347.7L776.2,339.7Z" fill="#4eb3d3"/>
<path d="M851.9,377.3L859.3,376.6L858.2,381.2L854.7,382.8Z" fill="#4eb3d3" stroke="#4eb3d3" stroke-width="1.2"/>
<path d="M922.8,369.7L925.1,368.5L926.7,371.3L932.1,369.7L929.7,374.3L925.1,377.8L922.8,375.9L924.4,373.1Z" fill="#4eb3d3" stroke="#4eb3d3" stroke-width="1.2"/>
<path d="M906.7,388.2L912.4,382.4L919.4,377.8L922.8,378.9L919.4,383.5L913.6,388.2L909.0,390.5Z" fill="#4eb3d3" stroke="#4eb3d3" stroke-width="1.2"/>
<path d="M931.4,318.2L933.0,318.2L933.0,319.8L931.4,319.8Z" fill="#334"/>
<path d="M524.6,75.6L530.8,74.1L538.4,75.1L545.9,73.1L554.7,74.6L550.9,78.1L542.1,79.6L533.4,79.1L527.1,78.1Z" fill="url(#hatch)" stroke="#3a3a3a" stroke-width="0.7"/>
<path d="M557.2,75.1L567.2,73.6L568.5,77.1L559.7,78.1Z" fill="url(#hatch)" stroke="#3a3a3a" stroke-width="0.7"/>
<path d="M116.3,129.4L113.3,131.7L108.0,134.7L102.0,137.0L98.2,138.0L102.7,135.9L110.2,132.9L114.8,130.2Z" fill="#7bccc4" stroke="#7bccc4" stroke-width="1.2"/>
<path d="M931.1,317.9L933.2,317.9L933.2,320.0L931.1,320.0Z" fill="#334" stroke="none"/>
<path d="M286.5,94.6L299.3,93.0L312.2,97.3L321.8,101.0L318.6,106.6L309.0,105.8L299.3,102.1L289.7,99.4Z" fill="#7bccc4" stroke="#7bccc4" stroke-width="1.2"/>
<path d="M251.1,84.1L259.1,83.8L260.7,86.5L253.5,87.3Z" fill="#7bccc4" stroke="#7bccc4" stroke-width="1.2"/>
<path d="M243.1,88.9L249.5,88.6L249.8,91.4L243.9,91.5Z" fill="#7bccc4" stroke="#7bccc4" stroke-width="1.2"/>
</g>
<g fill="none" stroke="#fff" stroke-width="0.9" stroke-linejoin="round">
<path d="M153.9,101.6L153.9,123.4"/>
<path d="M198.1,152.0L245.3,152.0L265.4,152.0L280.4,154.6L288.0,158.8L295.5,163.8L298.0,170.1L305.5,168.1L315.6,165.1L323.1,162.1L330.6,158.1L334.4,158.1"/>
<path d="M715.6,151.6L725.7,147.9L738.2,144.1L745.8,149.1L755.8,150.4L768.4,151.6L780.9,150.4L790.9,155.4L788.4,160.4L780.9,162.9L770.9,165.4L760.8,168.0L745.8,166.7L730.7,164.2L720.7,157.9L715.6,151.6"/>
<path d="M790.9,155.4L796.0,151.6L791.2,142.9L803.7,141.6L811.3,147.9L818.8,154.1L826.3,154.1L825.1,160.4L820.0,165.4"/>
<path d="M709.4,154.1L715.6,151.6"/>
<path d="M634.8,163.8L640.8,161.6L648.3,163.1L654.3,165.3L660.4,167.6L666.4,171.4L667.9,174.4L663.4,176.6L661.9,180.4"/>
<path d="M690.5,167.6L690.5,169.8L681.4,173.3L681.4,173.6L679.9,178.9L678.4,179.3"/>
<path d="M715.2,216.7L714.5,212.9L716.7,210.7L721.3,211.4L723.5,213.7L724.3,215.9"/>
<path d="M534.1,138.8L533.6,143.8L534.8,148.2"/>
<path d="M534.8,148.2L541.3,150.1L547.6,150.7L554.1,150.1"/>
<path d="M554.1,150.1L555.8,145.1L554.9,140.1L555.8,137.5"/>
<path d="M555.8,137.5L552.6,136.3L548.2,136.9"/>
<path d="M555.8,145.1L565.2,144.8L575.2,144.4L577.1,142.6"/>
<path d="M555.8,137.5L560.1,135.0L565.2,133.8L568.9,131.9"/>
<path d="M551.4,132.5L560.1,133.2L563.9,132.5"/>
<path d="M555.8,129.0L561.4,129.4L565.8,128.8"/>
<path d="M534.8,148.2L530.1,148.8L529.4,152.0L534.4,152.3L540.1,152.0L542.6,151.3L547.6,150.7"/>
<path d="M540.1,152.0L540.7,156.3L542.6,157.6"/>
<path d="M554.1,150.1L552.6,153.8L551.6,157.6L553.2,163.2L554.5,165.1"/>
<path d="M552.6,153.8L558.9,154.5L565.2,154.1L567.0,156.3L568.9,159.1"/>
<path d="M542.6,157.6L547.6,158.2L551.6,157.6"/>
<path d="M542.6,157.6L544.5,162.6L546.4,167.6L548.2,170.1"/>
<path d="M547.6,158.2L548.9,162.6L551.4,167.0"/>
<path d="M525.8,120.6L528.8,116.1L533.3,111.6L539.3,107.8L546.9,104.0L554.4,101.8L555.2,105.5"/>
<path d="M554.4,101.8L560.4,100.3L566.4,101.0L569.5,99.5"/>
<path d="M273.6,80.6L286.5,82.5L299.3,82.2L312.2,79.3L323.4,76.1" stroke-width="2.2"/>
<path d="M284.9,71.3L292.9,74.8L302.5,75.4" stroke-width="1.8"/>
<path d="M312.2,72.1L321.8,71.3L334.7,70.0" stroke-width="1.4"/>
</g>
</g>
<g class="legend">
<rect x="182.3" y="436.6" width="29.2" height="12.6" fill="url(#hatch3)" stroke="#c8c8c8" stroke-width="0.6"/>
<text x="196.9" y="462.7" text-anchor="middle">No data</text>
<rect x="220.4" y="436.6" width="76.8" height="12.6" fill="#b4b4b4"/>
<text x="258.8" y="462.7" text-anchor="middle">No Increase</text>
<rect x="304.2" y="436.6" width="76.8" height="12.6" fill="#a8ddb5"/>
<text x="342.6" y="462.7" text-anchor="middle">50%</text>
<rect x="388.0" y="436.6" width="76.8" height="12.6" fill="#7bccc4"/>
<text x="426.4" y="462.7" text-anchor="middle">150%</text>
<rect x="472.0" y="436.6" width="76.8" height="12.6" fill="#4eb3d3"/>
<text x="510.4" y="462.7" text-anchor="middle">300%</text>
<rect x="556.0" y="436.6" width="76.8" height="12.6" fill="#2b8cbe"/>
<text x="594.4" y="462.7" text-anchor="middle">600%</text>
<rect x="640.0" y="436.6" width="76.8" height="12.6" fill="#0868ac"/>
<text x="678.4" y="462.7" text-anchor="middle">900%</text>
<rect x="724.0" y="436.6" width="76.8" height="12.6" fill="#084081"/>
<text x="762.4" y="462.7" text-anchor="middle">1300%</text>
</g>
</svg>
</body></html>
